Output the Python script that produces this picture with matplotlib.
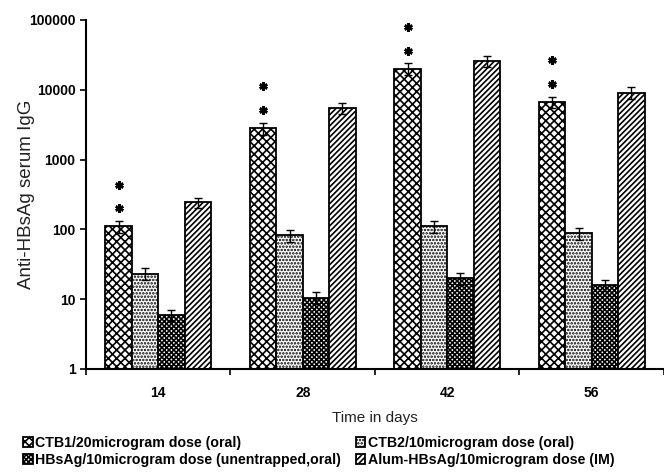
import numpy as np
import matplotlib
matplotlib.use('Agg')
import matplotlib.pyplot as plt

plt.rcParams['font.family'] = ['Liberation Sans', 'DejaVu Sans']
plt.rcParams['hatch.linewidth'] = 1.2

# data
days = ['14', '28', '42', '56']
labels = ['CTB1/20microgram dose (oral)',
          'CTB2/10microgram dose (oral)',
          'HBsAg/10microgram dose (unentrapped,oral)',
          'Alum-HBsAg/10microgram dose (IM)']
ctb1 = [110, 2800, 20000, 6700]
ctb2 = [23, 82, 110, 88]
hbsag = [5.9, 10.5, 20, 16]
alum = [245, 5500, 26000, 9100]
ctb1_err = [20, 550, 3800, 1300]
ctb2_err = [4.5, 17, 22, 17]
hbsag_err = [1.0, 2.0, 4.0, 3.0]
alum_err = [40, 1000, 4500, 1700]

series = [ctb1, ctb2, hbsag, alum]
errors = [ctb1_err, ctb2_err, hbsag_err, alum_err]
hatches = ['xxxx', '.....', 'xxxxxxx', '//////']

fig = plt.figure(figsize=(6.64, 4.76), dpi=100)
ax = fig.add_axes([0.1295, 0.225, 0.8705, 0.733])

x = np.arange(len(days))
w = 0.183
handles = []
for i, (vals, err, h) in enumerate(zip(series, errors, hatches)):
    pos = x + (i - 1.5) * w
    b = ax.bar(pos, vals, w, color='white', edgecolor='black', hatch=h,
               linewidth=1.3, label=labels[i])
    ax.errorbar(pos, vals, yerr=err, fmt='none', ecolor='black',
                elinewidth=1.0, capsize=3, capthick=1.0)
    handles.append(b)

# significance stars above CTB1 bars
pos1 = x - 1.5 * w
for p, v in zip(pos1, ctb1):
    ax.plot([p, p], [v * 10 ** 0.26, v * 10 ** 0.6], linestyle='none',
            marker=(6, 2, 0), markersize=6, markeredgewidth=1.8, color='black')

ax.set_yscale('log')
ax.set_ylim(1, 100000)
ax.set_xlim(-0.5, 3.5)
ax.set_yticks([1, 10, 100, 1000, 10000, 100000])
ax.set_yticklabels(['1', '10', '100', '1000', '10000', '100000'],
                   fontweight='bold', fontsize=10)
ax.yaxis.set_minor_locator(matplotlib.ticker.NullLocator())
ax.set_xticks(x)
ax.set_xticklabels(days, fontweight='bold', fontsize=10)
ax.set_xticks(np.arange(-0.5, 4.0, 1.0), minor=True)
ax.tick_params(axis='x', which='major', length=0, pad=12)
ax.tick_params(axis='x', which='minor', length=4, width=1.2, direction='out')
ax.tick_params(axis='y', length=4, width=1.2, direction='out')

for s in ['top', 'right']:
    ax.spines[s].set_visible(False)
for s in ['left', 'bottom']:
    ax.spines[s].set_linewidth(1.5)

ax.set_ylabel('Anti-HBsAg serum IgG', fontsize=13.5, labelpad=-4, color='#222222')
ax.set_xlabel('Time in days', fontsize=11, labelpad=8, color='#222222')

order = [0, 2, 1, 3]
fig.legend([handles[k] for k in order], [labels[k] for k in order],
           ncol=2, loc='lower left', bbox_to_anchor=(0.015, -0.008),
           frameon=False, handlelength=0.7, handleheight=0.7,
           handletextpad=0.2, columnspacing=1.0, labelspacing=0.25,
           prop={'weight': 'bold', 'size': 10.2})

fig.savefig('out.png', dpi=100)
